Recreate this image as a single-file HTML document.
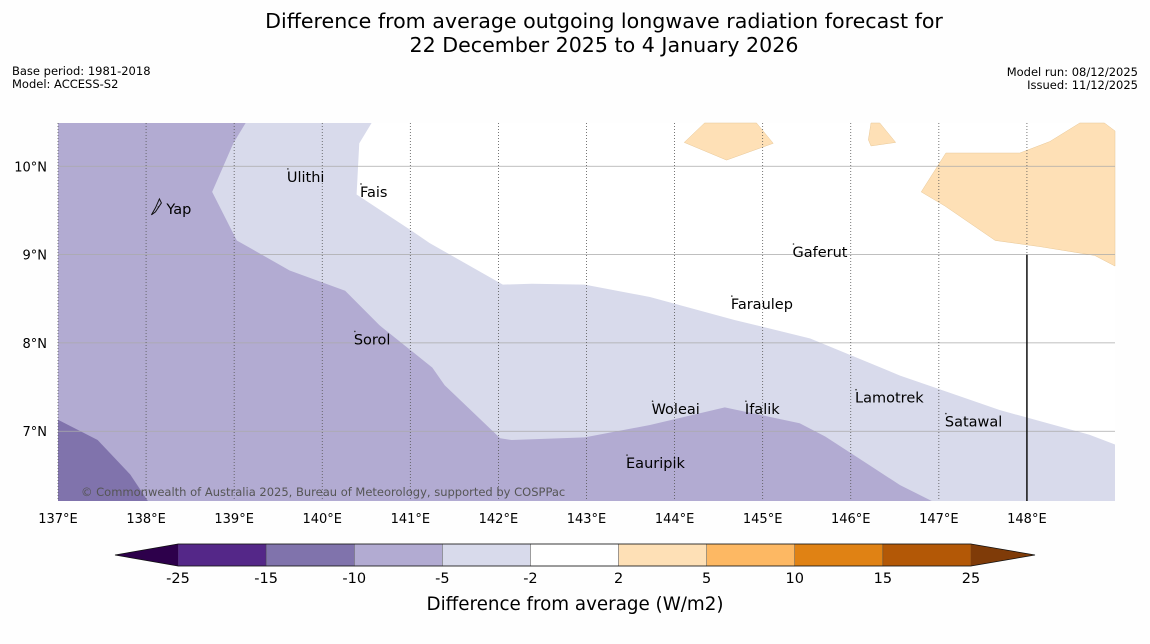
<!DOCTYPE html>
<html><head><meta charset="utf-8">
<style>
body{margin:0;background:#fff;font-family:"Liberation Sans",sans-serif;}
svg{display:block}
text{font-family:"DejaVu Sans","Liberation Sans",sans-serif}
</style></head>
<body>
<svg id="chart" width="1150" height="644" viewBox="0 0 1150 644">
<rect width="1150" height="644" fill="#fefefe"/>
<text x="604" y="28" font-size="20.6" text-anchor="middle">Difference from average outgoing longwave radiation forecast for</text>
<text x="604" y="52" font-size="20.6" text-anchor="middle">22 December 2025 to 4 January 2026</text>
<text x="12" y="75" font-size="11.5">Base period: 1981-2018</text>
<text x="12" y="88" font-size="11.5">Model: ACCESS-S2</text>
<text x="1138" y="76" font-size="11.5" text-anchor="end">Model run: 08/12/2025</text>
<text x="1138" y="89" font-size="11.5" text-anchor="end">Issued: 11/12/2025</text>
<g id="map"></g>
<g id="cbar"></g>
<text x="575" y="610" font-size="18.3" text-anchor="middle">Difference from average (W/m2)</text>
</svg>
<script>
const lonTicks=[137,138,139,140,141,142,143,144,145,146,147,148];
const latTicks=[7,8,9,10];
const whiteRegion=[[140.56,10.49],[149,10.49],[149,6.85],[148.71,6.96],[147.69,7.24],[146.56,7.63],[145.54,8.05],[144.68,8.26],[143.72,8.52],[142.98,8.66],[142.38,8.67],[142.05,8.66],[141.22,9.13],[141.0,9.28],[140.39,9.68],[140.42,10.26]];
const midRegion=[[137,10.49],[139.13,10.49],[138.99,10.26],[138.75,9.71],[139.03,9.16],[139.63,8.82],[140.26,8.59],[140.65,8.2],[141.25,7.72],[141.39,7.52],[142.02,6.92],[142.15,6.9],[142.98,6.93],[143.72,7.07],[144.57,7.27],[145.42,7.09],[145.71,6.94],[146.22,6.61],[146.56,6.39],[146.92,6.21],[137,6.21]];
const darkRegion=[[137,7.13],[137.45,6.9],[137.82,6.51],[138.02,6.21],[137,6.21]];
const land1=[[144.11,10.27],[144.34,10.49],[144.93,10.49],[145.12,10.26],[144.59,10.07]];
const land2=[[146.2,10.3],[146.23,10.49],[146.33,10.49],[146.51,10.27],[146.23,10.23]];
const land3=[[146.8,9.71],[147.08,10.15],[147.92,10.15],[148.26,10.28],[148.6,10.49],[148.88,10.49],[149,10.4],[149,8.87],[148.77,8.99],[148.15,9.09],[147.64,9.16],[147.07,9.55]];
const islandNames=["Ulithi","Fais","Yap","Gaferut","Faraulep","Sorol","Woleai","Ifalik","Lamotrek","Satawal","Eauripik"];
const islandLon=[139.61,140.44,138.14,145.35,144.65,140.37,143.75,144.81,146.06,147.08,143.46];
const islandLat=[9.97,9.80,9.54,9.12,8.53,8.13,7.34,7.34,7.47,7.20,6.73];
const cbBounds=[-25,-15,-10,-5,-2,2,5,10,15,25];
const cbColors=["#542788","#8073ac","#b2abd2","#d8daeb","#ffffff","#fee0b6","#fdb863","#e08214","#b35806"];
const NS="http://www.w3.org/2000/svg";
const X0=58,X1=1115,Y0=123,Y1=501;
const lonMin=137,lonMax=149,latMin=6.21,latMax=10.49;
const xs=lon=>X0+(lon-lonMin)/(lonMax-lonMin)*(X1-X0);
const ys=lat=>Y1-(lat-latMin)/(latMax-latMin)*(Y1-Y0);
function mk(tag,attrs,parent){const e=document.createElementNS(NS,tag);for(const k in attrs)e.setAttribute(k,attrs[k]);parent.appendChild(e);return e;}
const map=document.getElementById('map');
let r=mk('rect',{x:X0,y:Y0,width:X1-X0,height:Y1-Y0,fill:'#d8daeb'},map);


function poly(pts,fill,name,stroke){const p=mk('polygon',{points:pts.map(q=>xs(q[0])+','+ys(q[1])).join(' '),fill:fill,stroke:stroke||'none','stroke-width':0.5},map);

}
poly(whiteRegion,'#ffffff','near-average-region');
poly(midRegion,'#b2abd2','minus-5-to-10-region');
poly(darkRegion,'#8073ac','minus-10-to-15-region');
poly(land1,'#fee0b6','positive-region-1','#e8c898');
poly(land2,'#fee0b6','positive-region-2','#e8c898');
poly(land3,'#fee0b6','positive-region-3','#e8c898');
latTicks.forEach(t=>{const l=mk('line',{x1:X0,x2:X1,y1:ys(t),y2:ys(t),stroke:'#aaa','stroke-width':0.8},map);


const tx=mk('text',{x:47,y:ys(t)+5,'font-size':13,'text-anchor':'end'},map);tx.textContent=t+'°N';

});
lonTicks.forEach(t=>{const l=mk('line',{x1:xs(t),x2:xs(t),y1:Y0,y2:Y1,stroke:'#555','stroke-width':0.8,'stroke-dasharray':'1,2'},map);


const tx=mk('text',{x:xs(t),y:523,'font-size':13,'text-anchor':'middle'},map);tx.textContent=t+'°E';

});
let vl=mk('line',{x1:xs(148),x2:xs(148),y1:ys(9),y2:Y1,stroke:'#111','stroke-width':1.5},map);


islandNames.forEach((n,i)=>{const x=xs(islandLon[i]),y=ys(islandLat[i]);
const d=mk('circle',{cx:x,cy:y,r:0.8,fill:'#333'},map);


const tx=mk('text',{x:x+(n==='Yap'?8:-1),y:y+(n==='Yap'?7:13),'font-size':14.5},map);tx.textContent=n;

});
const yx=xs(138.14),yy=ys(9.54);
let yapShape=mk('path',{d:`M${yx-7},${yy+8} L${yx-3},${yy+1} L${yx+1},${yy-8} L${yx+3},${yy-4} L${yx-3},${yy+5} Z`,fill:'none',stroke:'#111','stroke-width':1},map);


let cp=mk('text',{x:81,y:496,'font-size':11.5,fill:'#555'},map);cp.textContent='© Commonwealth of Australia 2025, Bureau of Meteorology, supported by COSPPac';


const cb=document.getElementById('cbar');
const CX0=178,CX1=971,CY=544,CH=22,n=cbColors.length,seg=(CX1-CX0)/n;
cbColors.forEach((c,i)=>{const s=mk('rect',{x:CX0+i*seg,y:CY,width:seg,height:CH,fill:c,stroke:'#444','stroke-width':0.4},cb);

});
let tl=mk('polygon',{points:`${CX0},${CY} ${CX0},${CY+CH} 115,${CY+CH/2}`,fill:'#2d004b'},cb);


let tr=mk('polygon',{points:`${CX1},${CY} ${CX1},${CY+CH} 1035,${CY+CH/2}`,fill:'#7f3b08'},cb);


let ol=mk('polygon',{points:`115,${CY+CH/2} ${CX0},${CY} ${CX1},${CY} 1035,${CY+CH/2} ${CX1},${CY+CH} ${CX0},${CY+CH}`,fill:'none',stroke:'#111','stroke-width':0.8},cb);


cbBounds.forEach((b,i)=>{const tx=mk('text',{x:CX0+i*seg,y:583,'font-size':14.5,'text-anchor':'middle'},cb);tx.textContent=b;

});
</script>
</body></html>
